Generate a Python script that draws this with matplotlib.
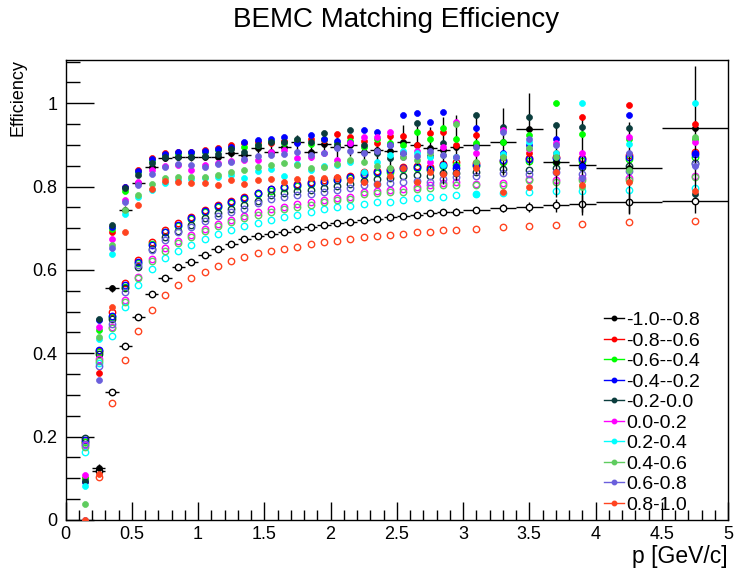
import numpy as np
import matplotlib
matplotlib.use("Agg")
import matplotlib.pyplot as plt
from matplotlib.lines import Line2D

nan = np.nan

# momentum bin edges [GeV/c]
p_edges = [0.1, 0.2, 0.3, 0.4, 0.5, 0.6, 0.7, 0.8, 0.9, 1.0, 1.1, 1.2, 1.3, 1.4,
           1.5, 1.6, 1.7, 1.8, 1.9, 2.0, 2.1, 2.2, 2.3, 2.4, 2.5, 2.6, 2.7, 2.8,
           2.9, 3.0, 3.2, 3.4, 3.6, 3.8, 4.0, 4.5, 5.0]

eta_labels = ["-1.0--0.8", "-0.8--0.6", "-0.6--0.4", "-0.4--0.2", "-0.2-0.0",
              "0.0-0.2", "0.2-0.4", "0.4-0.6", "0.6-0.8", "0.8-1.0"]
colors = ["#000000", "#ff0000", "#00ff00", "#0000ff", "#0b3d3d",
          "#ff00ff", "#00ffff", "#5fcc5f", "#6a5fdc", "#ff4420"]

# efficiency, filled markers
eff_m10 = [nan, 0.125, 0.556, 0.745, 0.808, 0.846, 0.868, 0.870, 0.870, 0.872, 0.870, 0.880, 0.876, 0.892, 0.884, 0.896, 0.906, 0.884, 0.902, 0.895, 0.899, 0.883, 0.887, 0.886, 0.907, 0.899, 0.893, 0.887, 0.894, 0.901, 0.908, 0.938, 0.859, 0.852, 0.844, 0.940]
err_m10 = [nan, 0.010, 0.009, 0.008, 0.007, 0.007, 0.007, 0.007, 0.008, 0.008, 0.009, 0.010, 0.011, 0.012, 0.013, 0.015, 0.017, 0.019, 0.021, 0.023, 0.026, 0.029, 0.033, 0.037, 0.042, 0.047, 0.050, 0.080, 0.078, 0.070, 0.080, 0.086, 0.085, 0.120, 0.110, 0.150]
eff_m08 = [0.100, 0.353, 0.690, 0.800, 0.840, 0.868, 0.880, 0.882, 0.884, 0.888, 0.892, 0.899, 0.904, 0.906, 0.905, 0.910, 0.908, 0.914, 0.912, 0.926, 0.918, 0.910, 0.905, 0.922, 0.922, 0.900, 0.928, 0.930, 0.900, 0.925, 0.870, 0.880, 0.880, 0.968, 0.995, 0.950]
eff_m06 = [0.100, 0.456, 0.699, 0.790, 0.835, 0.862, 0.876, 0.879, 0.880, 0.883, 0.887, 0.893, 0.896, 0.900, 0.910, 0.905, 0.912, 0.902, 0.915, 0.905, 0.910, 0.895, 0.915, 0.905, 0.900, 0.930, 0.915, 0.940, 0.915, 0.905, 0.908, 0.924, 1.000, 0.926, 0.915, 0.915]
eff_m04 = [0.091, 0.480, 0.703, 0.800, 0.838, 0.866, 0.878, 0.883, 0.882, 0.886, 0.890, 0.896, 0.908, 0.912, 0.914, 0.918, 0.905, 0.923, 0.915, 0.910, 0.905, 0.936, 0.930, 0.900, 0.972, 0.976, 0.954, 0.980, 0.850, 0.940, 0.880, 0.900, 0.915, 0.850, 0.971, 0.880]
eff_m02 = [0.094, 0.483, 0.708, 0.796, 0.828, 0.856, 0.872, 0.870, 0.870, 0.874, 0.878, 0.890, 0.884, 0.900, 0.908, 0.908, 0.914, 0.908, 0.928, 0.900, 0.936, 0.900, 0.880, 0.868, 0.880, 0.952, 0.874, 0.905, 0.870, 0.972, 0.944, 0.968, 0.948, 0.943, 0.940, 0.783]
eff_p00 = [0.108, 0.464, 0.675, 0.768, 0.810, 0.840, 0.850, 0.851, 0.840, 0.853, 0.857, 0.862, 0.864, 0.864, 0.884, 0.888, 0.868, 0.872, 0.880, 0.863, 0.905, 0.919, 0.920, 0.932, 0.870, 0.885, 0.860, 0.895, 0.956, 0.880, 0.935, 0.890, 0.905, 0.880, 0.920, 0.906]
eff_p02 = [0.082, 0.435, 0.639, 0.734, 0.776, 0.792, 0.808, 0.816, 0.818, 0.820, 0.824, 0.827, 0.820, 0.838, 0.842, 0.826, 0.855, 0.840, 0.850, 0.851, 0.860, 0.835, 0.858, 0.875, 0.886, 0.880, 0.870, 0.851, 0.870, 0.782, 0.879, 0.908, 0.880, 1.000, 0.902, 1.000]
eff_p04 = [0.038, 0.440, 0.660, 0.744, 0.780, 0.806, 0.820, 0.822, 0.822, 0.824, 0.828, 0.836, 0.840, 0.847, 0.852, 0.856, 0.852, 0.844, 0.848, 0.855, 0.863, 0.860, 0.850, 0.845, 0.870, 0.865, 0.880, 0.875, 0.950, 0.860, 0.870, 0.892, 0.870, 0.800, 0.840, 0.920]
eff_p06 = [0.000, 0.336, 0.653, 0.763, 0.803, 0.830, 0.846, 0.855, 0.851, 0.848, 0.854, 0.860, 0.866, 0.874, 0.876, 0.879, 0.882, 0.875, 0.880, 0.892, 0.885, 0.880, 0.885, 0.900, 0.880, 0.874, 0.885, 0.875, 0.870, 0.895, 0.930, 0.915, 0.900, 0.820, 0.880, 0.850]
eff_p08 = [0.000, 0.110, 0.512, 0.690, 0.756, 0.795, 0.814, 0.810, 0.808, 0.808, 0.803, 0.816, 0.806, 0.816, 0.818, 0.810, 0.818, 0.820, 0.820, 0.823, 0.815, 0.812, 0.806, 0.825, 0.845, 0.812, 0.835, 0.830, 0.833, 0.845, 0.788, 0.798, 0.834, 0.804, 0.812, 0.790]

# efficiency, open markers
eff2_m10 = [nan, 0.118, 0.307, 0.418, 0.488, 0.542, 0.580, 0.606, 0.620, 0.636, 0.651, 0.663, 0.674, 0.681, 0.687, 0.692, 0.699, 0.703, 0.708, 0.712, 0.716, 0.720, 0.723, 0.727, 0.730, 0.733, 0.736, 0.739, 0.740, 0.744, 0.748, 0.751, 0.755, 0.759, 0.762, 0.766]
err2_m10 = [nan, 0.005, 0.005, 0.005, 0.004, 0.004, 0.004, 0.004, 0.004, 0.004, 0.004, 0.004, 0.004, 0.004, 0.004, 0.004, 0.004, 0.005, 0.005, 0.005, 0.005, 0.005, 0.006, 0.006, 0.006, 0.007, 0.007, 0.007, 0.008, 0.008, 0.010, 0.012, 0.015, 0.020, 0.025, 0.030]
eff2_m08 = [0.188, 0.405, 0.500, 0.568, 0.624, 0.668, 0.696, 0.712, 0.728, 0.744, 0.757, 0.766, 0.776, 0.785, 0.795, 0.800, 0.807, 0.810, 0.815, 0.820, 0.826, 0.834, 0.838, 0.842, 0.848, 0.850, 0.846, 0.855, 0.858, 0.857, 0.862, 0.868, 0.872, 0.868, 0.876, 0.884]
eff2_m06 = [0.186, 0.402, 0.488, 0.560, 0.617, 0.662, 0.690, 0.706, 0.722, 0.738, 0.751, 0.761, 0.770, 0.782, 0.790, 0.796, 0.802, 0.806, 0.810, 0.815, 0.820, 0.828, 0.833, 0.836, 0.842, 0.845, 0.840, 0.849, 0.852, 0.850, 0.858, 0.862, 0.860, 0.862, 0.866, 0.872]
eff2_m04 = [0.192, 0.408, 0.490, 0.565, 0.620, 0.660, 0.692, 0.709, 0.725, 0.741, 0.754, 0.764, 0.773, 0.784, 0.794, 0.800, 0.804, 0.808, 0.812, 0.817, 0.823, 0.830, 0.836, 0.839, 0.845, 0.848, 0.843, 0.851, 0.844, 0.853, 0.864, 0.866, 0.868, 0.866, 0.872, 0.878]
eff2_m02 = [0.197, 0.398, 0.483, 0.556, 0.608, 0.650, 0.678, 0.694, 0.709, 0.724, 0.737, 0.746, 0.755, 0.765, 0.780, 0.784, 0.789, 0.793, 0.797, 0.802, 0.806, 0.813, 0.818, 0.821, 0.826, 0.828, 0.825, 0.832, 0.832, 0.834, 0.842, 0.840, 0.845, 0.848, 0.850, 0.856]
eff2_p00 = [0.180, 0.386, 0.464, 0.528, 0.584, 0.627, 0.652, 0.670, 0.685, 0.699, 0.711, 0.721, 0.730, 0.739, 0.746, 0.752, 0.759, 0.763, 0.768, 0.772, 0.776, 0.787, 0.790, 0.792, 0.794, 0.800, 0.803, 0.808, 0.810, 0.806, 0.808, 0.818, 0.816, 0.820, 0.820, 0.826]
eff2_p02 = [0.162, 0.377, 0.442, 0.510, 0.564, 0.603, 0.628, 0.645, 0.660, 0.675, 0.687, 0.697, 0.705, 0.712, 0.720, 0.728, 0.733, 0.739, 0.746, 0.750, 0.754, 0.758, 0.762, 0.764, 0.768, 0.772, 0.774, 0.776, 0.780, 0.782, 0.784, 0.786, 0.790, 0.790, 0.792, 0.796]
eff2_p04 = [0.176, 0.382, 0.460, 0.524, 0.580, 0.621, 0.646, 0.664, 0.679, 0.693, 0.705, 0.715, 0.724, 0.732, 0.740, 0.747, 0.752, 0.756, 0.763, 0.767, 0.771, 0.782, 0.784, 0.787, 0.788, 0.794, 0.796, 0.803, 0.804, 0.803, 0.804, 0.815, 0.812, 0.816, 0.817, 0.822]
eff2_p06 = [0.182, 0.370, 0.470, 0.548, 0.612, 0.648, 0.672, 0.690, 0.703, 0.717, 0.729, 0.738, 0.747, 0.760, 0.770, 0.775, 0.779, 0.783, 0.787, 0.792, 0.796, 0.803, 0.806, 0.808, 0.810, 0.814, 0.812, 0.818, 0.824, 0.826, 0.832, 0.830, 0.835, 0.830, 0.838, 0.854]
eff2_p08 = [nan, 0.104, 0.280, 0.384, 0.454, 0.503, 0.540, 0.564, 0.580, 0.595, 0.610, 0.622, 0.631, 0.640, 0.646, 0.651, 0.656, 0.662, 0.666, 0.669, 0.674, 0.678, 0.682, 0.684, 0.687, 0.690, 0.691, 0.695, 0.696, 0.699, 0.703, 0.705, 0.708, 0.710, 0.714, 0.718]

filled = [eff_m10, eff_m08, eff_m06, eff_m04, eff_m02, eff_p00, eff_p02, eff_p04, eff_p06, eff_p08]
opened = [eff2_m10, eff2_m08, eff2_m06, eff2_m04, eff2_m02, eff2_p00, eff2_p02, eff2_p04, eff2_p06, eff2_p08]

edges = np.array(p_edges)
p_mid = 0.5 * (edges[:-1] + edges[1:])
p_half = 0.5 * (edges[1:] - edges[:-1])

plt.rcParams['font.family'] = ['Liberation Sans', 'DejaVu Sans']

W, H = 734, 578
fig = plt.figure(figsize=(W / 100, H / 100), dpi=100)
x0, x1, y0, y1 = 65.5, 728.0, 59.5, 520.0
ax = fig.add_axes([x0 / W, 1 - y1 / H, (x1 - x0) / W, (y1 - y0) / H])
ax.set_xlim(0, 5)
ax.set_ylim(0, 1.105)

ms_f = 4.3
ms_o = 4.6

# open-marker sets
for i, (vals, col) in enumerate(zip(opened, colors)):
    if i == 0:
        ax.errorbar(p_mid, vals, xerr=p_half, yerr=err2_m10, fmt='none',
                    ecolor='black', elinewidth=1.0, capsize=0, zorder=2)
        ax.plot(p_mid, vals, 'o', ms=ms_o, mfc='white', mec=col, mew=1.0,
                ls='none', zorder=2.1)
    else:
        ax.plot(p_mid, vals, 'o', ms=ms_o, mfc='none', mec=col, mew=1.0,
                ls='none', zorder=2.2 + i * 0.01)

# filled-marker sets
for i, (vals, col) in enumerate(zip(filled, colors)):
    if i == 0:
        ax.errorbar(p_mid, vals, xerr=p_half, yerr=err_m10, fmt='none',
                    ecolor='black', elinewidth=1.0, capsize=0, zorder=3)
    ax.plot(p_mid, vals, 'o', ms=ms_f, mfc=col, mec=col, mew=0.5,
            ls='none', zorder=3.1 + i * 0.01)

# axes styling
ax.set_xticks(np.arange(0, 5.01, 0.5))
ax.set_xticks(np.arange(0, 5.001, 0.1), minor=True)
ax.set_yticks(np.arange(0, 1.01, 0.2))
ax.set_yticks(np.arange(0, 1.101, 0.05), minor=True)
ax.set_xticklabels(['%g' % v for v in np.arange(0, 5.01, 0.5)])
ax.set_yticklabels(['%g' % round(v, 1) for v in np.arange(0, 1.01, 0.2)])
ax.tick_params(axis='x', which='major', direction='in', length=13, width=1,
               labelsize=13, pad=4, top=False)
ax.tick_params(axis='x', which='minor', direction='in', length=7, width=1, top=False)
ax.tick_params(axis='y', which='major', direction='in', length=20, width=1,
               labelsize=13, pad=6, right=False)
ax.tick_params(axis='y', which='minor', direction='in', length=10, width=1, right=False)
for s in ax.spines.values():
    s.set_linewidth(1.0)

fig.text(728 / W, 1 - 557 / H, 'p [GeV/c]', ha='right', va='center', fontsize=16.5)
fig.text(18 / W, 1 - 59 / H, 'Efficiency', ha='center', va='top', rotation=90,
         fontsize=13)
fig.text(396 / W, 1 - 20 / H, 'BEMC Matching Efficiency', ha='center', va='center',
         fontsize=20)

handles = [Line2D([0], [0], color=c, lw=1.0, marker='o', ms=3.2, mfc=c, mec=c)
           for c in colors]
ax.legend(handles, eta_labels, loc='upper left', bbox_to_anchor=(0.813, 0.453),
          frameon=False, fontsize=14, handlelength=1.0, handletextpad=0.15,
          labelspacing=0.15, borderaxespad=0, borderpad=0)

fig.savefig('out.png', dpi=100)
